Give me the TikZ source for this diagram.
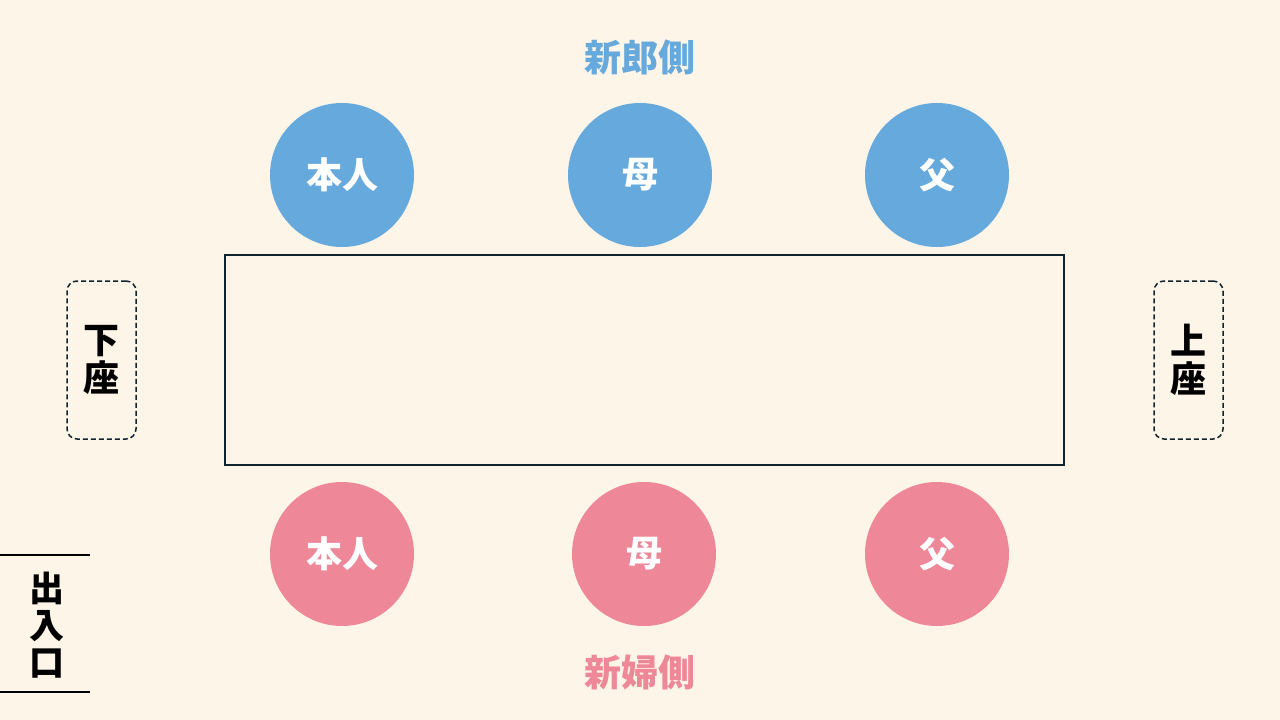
\documentclass[tikz,border=0pt]{standalone}
\usepackage{fontspec}
\newfontfamily\cjk{Noto Sans CJK JP}
\usepackage{xcolor}
\definecolor{bg}{HTML}{FEF5E9}
\definecolor{groom}{HTML}{66A9DC}
\definecolor{bride}{HTML}{EE8899}
\definecolor{edge}{HTML}{10242E}
\tikzset{
  seat/.style={circle, minimum size=144pt, inner sep=0pt, text=white, font=\cjk\bfseries\fontsize{36}{40}\selectfont},
  side/.style={font=\cjk\bfseries\fontsize{37}{42}\selectfont},
  rank/.style={draw=edge, dash pattern=on 5pt off 3pt, line width=1.5pt, rounded corners=10pt, minimum width=69pt, minimum height=158pt, align=center, font=\cjk\bfseries\fontsize{36}{38}\selectfont},
}
\begin{document}
\begin{tikzpicture}[x=1pt,y=-1pt]
\fill [bg] (0,0) rectangle (1280,720);
\useasboundingbox (0,0) rectangle (1280,720);
% table
\draw [edge, line width=2pt] (225,255) rectangle (1064,465);
% seats
\foreach \n/\x/\t in {1/342/本人,2/640/母,3/937/父}
{	\node[seat, fill=groom] (g\n) at (\x,175) {\t};
}
\foreach \n/\x/\t in {1/342/本人,2/644/母,3/937/父}
{	\node[seat, fill=bride] (b\n) at (\x,554) {\t};
}
\node[side, text=groom] (groomside) at (640,57) {新郎側};
\node[side, text=bride] (brideside) at (640,672) {新婦側};
% lower and upper seats
\node[rank] (shimoza) at (101.5,360) {下\\座};
\node[rank] (kamiza) at (1188.5,360) {上\\座};
% entrance
\draw [line width=1.5pt] (0,555)--(90,555);
\draw [line width=1.5pt] (0,692)--(90,692);
\node[align=center, font=\cjk\bfseries\fontsize{35}{37}\selectfont] (door) at (47,625) {出\\入\\口};
\end{tikzpicture}
\end{document}
